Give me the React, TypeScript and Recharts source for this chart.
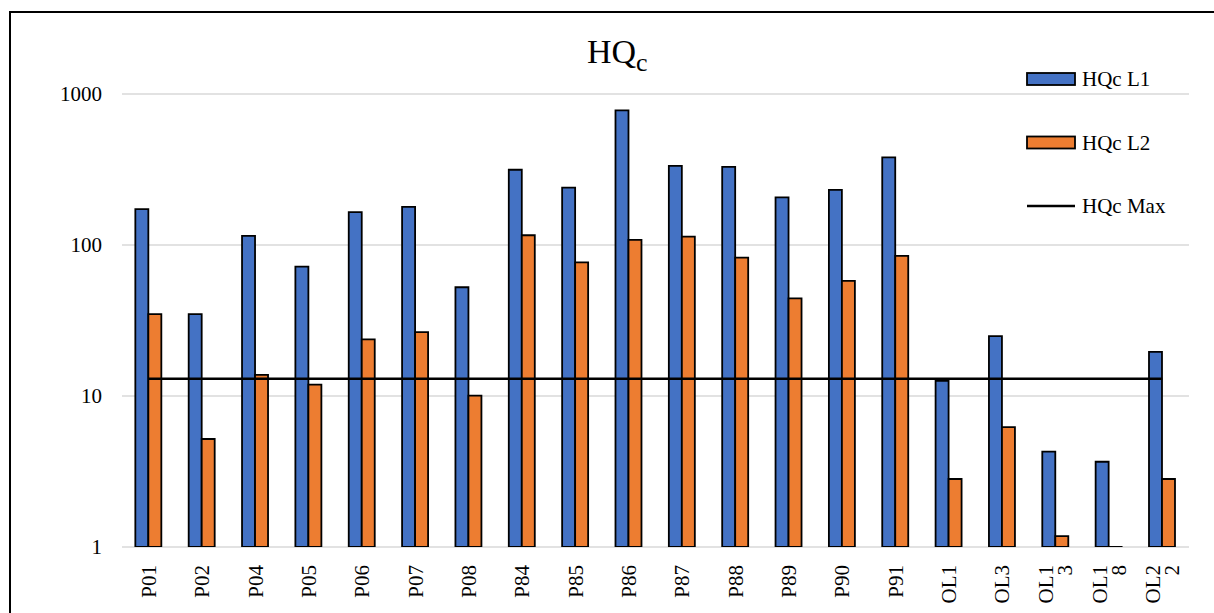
import React from 'react';
import { ComposedChart, Bar, Line, XAxis, YAxis, CartesianGrid } from 'recharts';

const categories = ['P01', 'P02', 'P04', 'P05', 'P06', 'P07', 'P08', 'P84', 'P85', 'P86', 'P87', 'P88', 'P89', 'P90', 'P91', 'OL1', 'OL3', 'OL13', 'OL18', 'OL22'];
const hqcL1 = [173, 34.9, 115, 72, 165, 179, 52.5, 315, 240, 780, 334, 329, 207, 232, 381, 12.6, 24.9, 4.28, 3.67, 19.6];
const hqcL2 = [34.9, 5.19, 13.8, 11.9, 23.7, 26.5, 10.05, 116, 76.8, 108, 113.5, 82.4, 44.3, 57.8, 84.6, 2.82, 6.23, 1.18, 0.97, 2.82];
const hqcMax = 13;
const yTicks = [1, 10, 100, 1000];

const seriesNames = { l1: 'HQc L1', l2: 'HQc L2', max: 'HQc Max' };
const BLUE = '#4472C4';
const ORANGE = '#ED7D31';
const FONT = '"Liberation Serif", "Times New Roman", serif';

const data = categories.map((c, i) => ({ name: c, l1: hqcL1[i], l2: hqcL2[i], max: hqcMax }));

const XTick = (props: any) => {
  const { x, y, payload } = props;
  const label: string = String(payload.value);
  const lines: string[] = [];
  for (let i = 0; i < label.length; i += 3) lines.push(label.slice(i, i + 3));
  const lh = 19;
  const startOff = -((lines.length - 1) * lh) / 2;
  return (
    <g transform={`translate(${x},${y}) rotate(-90)`}>
      {lines.map((ln, i) => (
        <text
          key={i}
          x={-16}
          y={startOff + i * lh}
          dy="0.34em"
          textAnchor="end"
          fontFamily={FONT}
          fontSize={21}
          fill="#000"
        >
          {ln}
        </text>
      ))}
    </g>
  );
};

const LegendBox = () => {
  const items = [
    { key: 'l1', type: 'rect', color: BLUE },
    { key: 'l2', type: 'rect', color: ORANGE },
    { key: 'max', type: 'line', color: '#000' },
  ];
  return (
    <svg width={190} height={170} style={{ position: 'absolute', left: 1020, top: 67 }}>
      {items.map((it, i) => {
        const cy = 12 + i * 63.5;
        return (
          <g key={it.key}>
            {it.type === 'rect' ? (
              <rect x={7} y={cy - 6} width={48} height={12} fill={it.color} stroke="#000" strokeWidth={1.8} />
            ) : (
              <line x1={7} x2={55} y1={cy} y2={cy} stroke="#000" strokeWidth={2.5} />
            )}
            <text x={62} y={cy + 7} fontFamily={FONT} fontSize={21} fill="#000">
              {(seriesNames as any)[it.key]}
            </text>
          </g>
        );
      })}
    </svg>
  );
};

export default function App() {
  return (
    <div style={{ position: 'absolute', left: 0, top: 0, width: 1214, height: 613, overflow: 'hidden', background: '#fff' }}>
      <div style={{ position: 'absolute', left: 9, top: 11, width: 1400, height: 800, borderLeft: '2px solid #000', borderTop: '2px solid #000' }} />
      <svg width={1214} height={100} style={{ position: 'absolute', left: 0, top: 0 }}>
        <text x={587} y={63} fontFamily={FONT} fontSize={34} fill="#000">
          HQ
          <tspan fontSize={26} dy={8}>c</tspan>
        </text>
      </svg>
      <div style={{ position: 'absolute', left: 0, top: 0 }}>
        <ComposedChart
          width={1214}
          height={613}
          data={data}
          margin={{ top: 94, right: 25, bottom: 0, left: 0 }}
          barCategoryGap="25%"
          barGap={0}
        >
          <CartesianGrid vertical={false} stroke="#d9d9d9" strokeWidth={1.5} />
          <XAxis
            dataKey="name"
            interval={0}
            axisLine={false}
            tickLine={false}
            tickSize={0}
            height={66}
            tick={<XTick />}
          />
          <YAxis
            type="number"
            scale="log"
            domain={[1, 1000]}
            allowDataOverflow
            ticks={yTicks}
            width={122}
            axisLine={false}
            tickLine={false}
            tickSize={0}
            tickMargin={20}
            tick={{ fontFamily: FONT, fontSize: 21, fill: '#000' }}
          />
          <Bar dataKey="l1" name={seriesNames.l1} fill={BLUE} stroke="#000" strokeWidth={1.8} isAnimationActive={false} />
          <Bar dataKey="l2" name={seriesNames.l2} fill={ORANGE} stroke="#000" strokeWidth={1.8} isAnimationActive={false} />
          <Line
            dataKey="max"
            name={seriesNames.max}
            type="linear"
            stroke="#000"
            strokeWidth={2.5}
            dot={false}
            activeDot={false}
            isAnimationActive={false}
          />
        </ComposedChart>
      </div>
      <LegendBox />
    </div>
  );
}
